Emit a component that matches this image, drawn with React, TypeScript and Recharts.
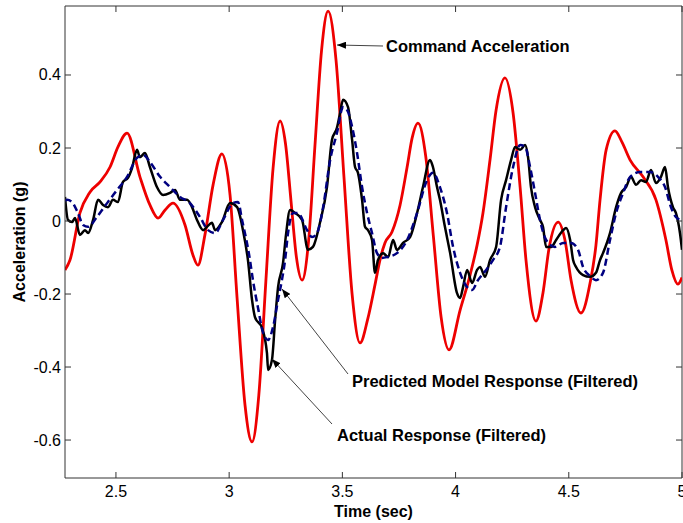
import { LineChart, Line, XAxis, YAxis, ReferenceLine } from "recharts";

// time (sec), acceleration (g)
const command: [number, number][] = [
  [2.275, -0.134], [2.297, -0.107], [2.341, 0.022], [2.385, 0.079], [2.43, 0.107],
  [2.474, 0.148], [2.509, 0.203], [2.549, 0.241], [2.606, 0.121], [2.65, 0.044],
  [2.686, 0.008], [2.717, 0.03], [2.752, 0.049], [2.805, -0.011], [2.84, -0.093],
  [2.862, -0.121], [2.893, -0.038], [2.929, 0.099], [2.968, 0.184], [3.004, 0.071],
  [3.035, -0.211], [3.07, -0.504], [3.101, -0.605], [3.131, -0.477], [3.162, -0.166],
  [3.194, 0.145], [3.225, 0.274], [3.249, 0.211], [3.273, 0.056], [3.297, -0.099],
  [3.322, -0.162], [3.351, -0.053], [3.379, 0.207], [3.408, 0.467], [3.437, 0.575],
  [3.472, 0.441], [3.507, 0.121], [3.543, -0.2], [3.578, -0.334], [3.613, -0.266],
  [3.644, -0.175], [3.666, -0.107], [3.688, -0.06], [3.719, -0.03], [3.755, 0.044],
  [3.786, 0.148], [3.808, 0.227], [3.834, 0.268], [3.868, 0.178], [3.902, -0.042],
  [3.936, -0.263], [3.971, -0.353], [4.02, -0.244], [4.064, -0.148], [4.095, -0.066],
  [4.121, 0.022], [4.152, 0.167], [4.179, 0.304], [4.218, 0.392], [4.254, 0.296],
  [4.285, 0.093], [4.311, -0.107], [4.355, -0.274], [4.386, -0.197], [4.413, -0.074],
  [4.453, -0.003], [4.483, -0.052], [4.51, -0.162], [4.554, -0.252], [4.594, -0.17],
  [4.62, -0.066], [4.638, 0.058], [4.665, 0.195], [4.704, 0.247], [4.735, 0.216],
  [4.771, 0.167], [4.828, 0.121], [4.885, 0.058], [4.929, -0.052], [4.955, -0.134],
  [4.982, -0.173], [5.0, -0.155],
];

const actual: [number, number][] = [
  [2.275, 0.066], [2.288, 0.003], [2.306, -0.003], [2.319, 0.008], [2.341, -0.038],
  [2.363, -0.025], [2.377, -0.033], [2.399, 0.003], [2.421, 0.058], [2.443, 0.044],
  [2.465, 0.038], [2.487, 0.058], [2.509, 0.052], [2.531, 0.107], [2.553, 0.118],
  [2.571, 0.145], [2.593, 0.195], [2.606, 0.175], [2.628, 0.186], [2.65, 0.148],
  [2.681, 0.093], [2.708, 0.071], [2.739, 0.077], [2.761, 0.085], [2.783, 0.058],
  [2.814, 0.058], [2.836, 0.038], [2.858, 0.003], [2.885, -0.025], [2.902, -0.016],
  [2.924, -0.005], [2.938, -0.025], [2.968, -0.003], [3.004, 0.049], [3.035, 0.038],
  [3.061, -0.025], [3.083, -0.107], [3.101, -0.216], [3.114, -0.263], [3.145, -0.293],
  [3.167, -0.362], [3.172, -0.408], [3.189, -0.381], [3.203, -0.271], [3.216, -0.181],
  [3.238, -0.115], [3.251, -0.038], [3.269, 0.03], [3.291, 0.022], [3.322, 0.003],
  [3.348, -0.079], [3.37, -0.071], [3.401, -0.005], [3.432, 0.093], [3.454, 0.222],
  [3.476, 0.255], [3.49, 0.296], [3.503, 0.332], [3.525, 0.312], [3.543, 0.222],
  [3.556, 0.148], [3.569, 0.132], [3.587, 0.058], [3.6, -0.016], [3.613, -0.025],
  [3.631, -0.052], [3.644, -0.142], [3.657, -0.107], [3.68, -0.088], [3.702, -0.099],
  [3.724, -0.052], [3.741, -0.079], [3.768, -0.06], [3.799, -0.044], [3.83, 0.022],
  [3.856, 0.093], [3.887, 0.167], [3.9, 0.148], [3.918, 0.093], [3.931, 0.058],
  [3.953, -0.016], [3.976, -0.088], [4.006, -0.197], [4.02, -0.211], [4.033, -0.181],
  [4.051, -0.134], [4.073, -0.17], [4.095, -0.134], [4.108, -0.126], [4.13, -0.153],
  [4.152, -0.107], [4.179, -0.071], [4.201, 0.058], [4.223, 0.112], [4.245, 0.167],
  [4.263, 0.203], [4.285, 0.195], [4.307, 0.208], [4.32, 0.175], [4.333, 0.093],
  [4.351, 0.038], [4.373, 0.003], [4.386, -0.016], [4.4, -0.071], [4.422, -0.071],
  [4.444, -0.052], [4.475, -0.025], [4.488, -0.019], [4.506, -0.052], [4.519, -0.107],
  [4.532, -0.126], [4.563, -0.148], [4.594, -0.153], [4.62, -0.142], [4.638, -0.107],
  [4.651, -0.088], [4.682, -0.033], [4.709, 0.038], [4.731, 0.077], [4.753, 0.093],
  [4.775, 0.121], [4.797, 0.099], [4.819, 0.112], [4.841, 0.107], [4.863, 0.14],
  [4.885, 0.104], [4.907, 0.121], [4.925, 0.148], [4.938, 0.093], [4.96, 0.038],
  [4.973, 0.022], [4.991, -0.033], [5.0, -0.079],
];

const predicted: [number, number][] = [
  [2.275, 0.055], [2.284, 0.058], [2.306, 0.052], [2.332, 0.022], [2.355, -0.011],
  [2.377, -0.016], [2.416, 0.011], [2.461, 0.049], [2.505, 0.085], [2.549, 0.121],
  [2.593, 0.173], [2.62, 0.181], [2.65, 0.162], [2.695, 0.121], [2.739, 0.093],
  [2.783, 0.066], [2.827, 0.049], [2.871, 0.011], [2.907, -0.025], [2.938, -0.033],
  [2.973, 0.003], [3.017, 0.049], [3.039, 0.052], [3.057, 0.003], [3.092, -0.107],
  [3.105, -0.162], [3.127, -0.236], [3.15, -0.307], [3.172, -0.326], [3.194, -0.29],
  [3.216, -0.216], [3.233, -0.162], [3.247, -0.107], [3.26, -0.033], [3.282, 0.022],
  [3.304, 0.022], [3.344, -0.025], [3.366, -0.044], [3.388, -0.033], [3.415, 0.038],
  [3.446, 0.167], [3.476, 0.241], [3.503, 0.312], [3.521, 0.304], [3.543, 0.258],
  [3.565, 0.186], [3.587, 0.093], [3.609, 0.022], [3.631, -0.033], [3.653, -0.088],
  [3.675, -0.101], [3.697, -0.099], [3.741, -0.088], [3.786, -0.052], [3.83, 0.022],
  [3.874, 0.112], [3.9, 0.132], [3.931, 0.093], [3.962, 0.022], [3.989, -0.071],
  [4.02, -0.142], [4.051, -0.181], [4.073, -0.189], [4.099, -0.162], [4.135, -0.134],
  [4.165, -0.107], [4.196, -0.071], [4.223, 0.038], [4.254, 0.148], [4.285, 0.208],
  [4.307, 0.203], [4.329, 0.148], [4.351, 0.077], [4.373, 0.003], [4.4, -0.052],
  [4.439, -0.071], [4.475, -0.06], [4.51, -0.06], [4.541, -0.079], [4.563, -0.126],
  [4.598, -0.153], [4.62, -0.162], [4.651, -0.142], [4.682, -0.052], [4.709, 0.022],
  [4.74, 0.077], [4.771, 0.121], [4.815, 0.134], [4.859, 0.134], [4.894, 0.121],
  [4.925, 0.093], [4.951, 0.038], [4.973, 0.011], [4.995, 0.003],
];

const xTicks = [2.5, 3, 3.5, 4, 4.5, 5];
const yTicks = [-0.6, -0.4, -0.2, 0, 0.2, 0.4];
const X_DOMAIN: [number, number] = [2.275, 5.0];
const Y_DOMAIN: [number, number] = [-0.704, 0.589];

const W = 683;
const H = 523;
const LEFT = 65;
const TOP = 6;
const RIGHT = 682;
const BOTTOM = 478;
const FONT = "'Liberation Sans', Arial, sans-serif";
const AXIS = "#333";

const toRows = (pts: [number, number][]) => pts.map(([t, g]) => ({ t, g }));

function XTick(props: any) {
  const { x, payload } = props;
  return (
    <g>
      <line x1={x} x2={x} y1={BOTTOM} y2={BOTTOM - 6} stroke={AXIS} />
      <line x1={x} x2={x} y1={TOP} y2={TOP + 6} stroke={AXIS} />
      <text x={x} y={497} textAnchor="middle" fontSize={16} fontFamily={FONT} fill="#000">
        {String(payload.value)}
      </text>
    </g>
  );
}

function YTick(props: any) {
  const { y, payload } = props;
  return (
    <g>
      <line x1={LEFT} x2={LEFT + 6} y1={y} y2={y} stroke={AXIS} />
      <line x1={RIGHT} x2={RIGHT - 6} y1={y} y2={y} stroke={AXIS} />
      <text x={61} y={y + 5.5} textAnchor="end" fontSize={16} fontFamily={FONT} fill="#000">
        {String(payload.value)}
      </text>
    </g>
  );
}

function Arrow({ x1, y1, x2, y2 }: { x1: number; y1: number; x2: number; y2: number }) {
  return <line x1={x1} y1={y1} x2={x2} y2={y2} stroke="#444" strokeWidth={1} markerEnd="url(#arrowHead)" />;
}

export default function App() {
  return (
    <div style={{ position: "relative", width: W, height: H, background: "#fff" }}>
      <style>{"body{margin:0}"}</style>
      <LineChart width={W} height={H} margin={{ top: TOP, right: W - RIGHT, bottom: 0, left: 0 }}>
        <XAxis
          dataKey="t"
          type="number"
          domain={X_DOMAIN}
          ticks={xTicks}
          allowDataOverflow
          height={H - BOTTOM}
          axisLine={{ stroke: AXIS }}
          tickLine={false}
          tick={<XTick />}
          interval={0}
        />
        <YAxis
          dataKey="g"
          type="number"
          domain={Y_DOMAIN}
          ticks={yTicks}
          allowDataOverflow
          width={LEFT}
          axisLine={{ stroke: AXIS }}
          tickLine={false}
          tick={<YTick />}
          interval={0}
        />
        <ReferenceLine y={Y_DOMAIN[1]} stroke={AXIS} />
        <ReferenceLine x={X_DOMAIN[1]} stroke={AXIS} />
        <Line
          data={toRows(command)}
          dataKey="g"
          type="monotone"
          stroke="#ee0000"
          strokeWidth={2.8}
          dot={false}
          isAnimationActive={false}
        />
        <Line
          data={toRows(actual)}
          dataKey="g"
          type="monotone"
          stroke="#000"
          strokeWidth={2.5}
          dot={false}
          isAnimationActive={false}
        />
        <Line
          data={toRows(predicted)}
          dataKey="g"
          type="monotone"
          stroke="#000080"
          strokeWidth={2.5}
          strokeDasharray="7 4"
          dot={false}
          isAnimationActive={false}
        />
      </LineChart>
      <svg
        width={W}
        height={H}
        style={{ position: "absolute", left: 0, top: 0, pointerEvents: "none" }}
        fontFamily={FONT}
      >
        <defs>
          <marker id="arrowHead" markerWidth={9} markerHeight={7} refX={9} refY={3.5} orient="auto" markerUnits="userSpaceOnUse">
            <path d="M0,0 L9,3.5 L0,7 z" fill="#000" />
          </marker>
        </defs>
        <Arrow x1={383} y1={46} x2={337} y2={45} />
        <Arrow x1={348} y1={374} x2={282} y2={289} />
        <Arrow x1={332} y1={424} x2={272} y2={359} />
        <text x={386} y={52} fontSize={16.5} fontWeight="bold">Command Acceleration</text>
        <text x={352} y={387} fontSize={16.5} fontWeight="bold">Predicted Model Response (Filtered)</text>
        <text x={337} y={441} fontSize={16.5} fontWeight="bold">Actual Response (Filtered)</text>
        <text x={373.5} y={517} fontSize={16} fontWeight="bold" textAnchor="middle">Time (sec)</text>
        <text x={25} y={242} fontSize={16} fontWeight="bold" textAnchor="middle" transform="rotate(-90 25 242)">
          Acceleration (g)
        </text>
      </svg>
    </div>
  );
}
